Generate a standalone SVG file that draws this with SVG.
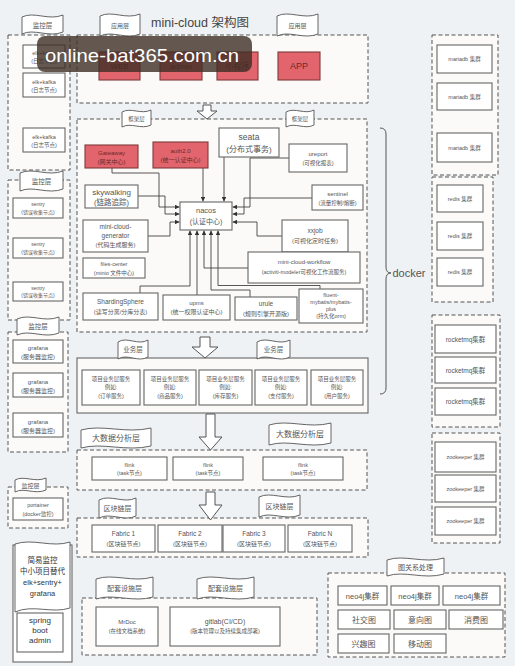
<svg xmlns="http://www.w3.org/2000/svg" width="515" height="666" viewBox="0 0 515 666">
<defs>
<marker id="ah" viewBox="0 0 6 6" refX="6" refY="3" markerWidth="4.5" markerHeight="4.5" markerUnits="userSpaceOnUse" orient="auto"><path d="M0,0 L6,3 L0,6 Z" fill="#333"/></marker>
</defs>
<style>
text{font-family:"Liberation Sans","Noto Sans CJK SC",sans-serif;fill:#555;text-anchor:middle}
.grp{fill:#fbfaf8;stroke:#555;stroke-width:1;stroke-dasharray:4 2.5}
.sgrp{fill:#fbfaf8;stroke:#666;stroke-width:1.1}
.box{fill:#fff;stroke:#666;stroke-width:1.1}
.red{fill:#e2656d;stroke:#7d3a3a;stroke-width:1.1}
.flag{fill:#fff;stroke:#555;stroke-width:0.9}
.harrow{fill:#fff;stroke:#555;stroke-width:1}
.conn{fill:none;stroke:#444;stroke-width:0.9;marker-end:url(#ah)}
.rt{fill:#6b2a2a}
.s5{font-size:5px}.s55{font-size:5.5px}.s6{font-size:6px}.s65{font-size:6.5px}.s7{font-size:7px}.s75{font-size:7.5px}.s8{font-size:8px}
</style>
<rect x="0" y="0" width="515" height="666" fill="#eef2f4"/>
<text x="200" y="27" style="font-size:12.5px;fill:#444">mini-cloud 架构图</text>

<!-- containers -->
<g id="app-layer"><rect class="grp" x="77" y="35" width="291" height="68"/></g>
<g id="framework-layer"><rect class="grp" x="77" y="119" width="290" height="213"/></g>
<g id="business-layer"><rect class="sgrp" x="77" y="358" width="291" height="55"/></g>
<g id="bigdata-layer"><rect class="grp" x="77" y="450" width="290" height="40"/></g>
<g id="blockchain-layer"><rect class="grp" x="77" y="518" width="291" height="39"/></g>
<g id="support-layer"><rect class="grp" x="82" y="598" width="235" height="57"/></g>
<g id="graph-layer"><rect class="grp" x="328" y="573" width="177" height="84"/></g>
<g id="mon-elk"><rect class="grp" x="8" y="35" width="62" height="135"/></g>
<g id="mon-sentry"><rect class="grp" x="8" y="180" width="62" height="140"/></g>
<g id="mon-grafana"><rect class="grp" x="8" y="332" width="60" height="120"/></g>
<g id="mon-portainer"><rect class="grp" x="8" y="487" width="60" height="41"/></g>
<g id="mariadb-group"><rect class="grp" x="432" y="35" width="66" height="140"/></g>
<g id="redis-group"><rect class="grp" x="432" y="177" width="61" height="125"/></g>
<g id="rocketmq-group"><rect class="grp" x="432" y="315" width="68" height="112"/></g>
<g id="zookeeper-group"><rect class="grp" x="432" y="433" width="68" height="110"/></g>

<!-- flags -->
<g id="flags">
<path class="flag" d="M100,16 C112,10 126,20 140,14 L140,34 C126,40 112,30 100,36 Z"/><text class="s6" x="120" y="28">应用层</text>
<path class="flag" d="M277,16 C289,10 304,20 318,14 L318,34 C304,40 289,30 277,36 Z"/><text class="s6" x="297.5" y="28">应用层</text>
<path class="flag" d="M122,112 C131,107 141,115 151,110 L151,125 C141,130 131,122 122,127 Z"/><text class="s55" x="136.5" y="121">框架层</text>
<path class="flag" d="M286,112 C295,107 305,115 314,110 L314,125 C305,130 295,122 286,127 Z"/><text class="s55" x="300" y="121">框架层</text>
<path class="flag" d="M118,342 C127,336 138,346 148,340 L148,357 C138,363 127,353 118,359 Z"/><text class="s65" x="133" y="352">业务层</text>
<path class="flag" d="M257,342 C267,336 279,346 290,340 L290,357 C279,363 267,353 257,359 Z"/><text class="s65" x="273.5" y="352">业务层</text>
<path class="flag" d="M81,430 C102,424 126,434 151,428 L151,446 C126,452 102,442 81,448 Z"/><text class="s8" x="116" y="441">大数据分析层</text>
<path class="flag" d="M269,425 C288,419 309,429 331,423 L331,443 C309,449 288,439 269,445 Z"/><text class="s8" x="300" y="437">大数据分析层</text>
<path class="flag" d="M99,500 C110,494 124,504 136,498 L136,516 C124,522 110,512 99,518 Z"/><text class="s7" x="117.5" y="511">区块链层</text>
<path class="flag" d="M259,497 C271,491 286,501 300,495 L300,515 C286,521 271,511 259,517 Z"/><text class="s7" x="279.5" y="509">区块链层</text>
<path class="flag" d="M96,579 C113,573 133,583 153,577 L153,597 C133,603 113,593 96,599 Z"/><text class="s7" x="124.5" y="591">配套设施层</text>
<path class="flag" d="M197,579 C214,573 234,583 254,577 L254,597 C234,603 214,593 197,599 Z"/><text class="s7" x="225.5" y="591">配套设施层</text>
<path class="flag" d="M387,560 C404,554 424,564 444,558 L444,574 C424,580 404,570 387,576 Z"/><text class="s7" x="415.5" y="570">图关系处理</text>
<path class="flag" d="M22,17 C34,11 49,21 63,15 L63,32 C49,38 34,28 22,34 Z"/><text class="s65" x="42.5" y="28">监控层</text>
<path class="flag" d="M20,173 C33,167 48,177 63,171 L63,189 C48,195 33,185 20,191 Z"/><text class="s65" x="41.5" y="184">监控层</text>
<path class="flag" d="M17,319 C30,313 44,323 59,317 L59,333 C44,339 30,329 17,335 Z"/><text class="s65" x="38" y="329">监控层</text>
<path class="flag" d="M15,480 C24,475 35,483 46,478 L46,490 C35,495 24,487 15,492 Z"/><text class="s6" x="30.5" y="488">监控层</text>
</g>

<!-- hollow flow arrows -->
<g id="flow-arrows">
<path class="harrow" d="M203,105 H211 V111 H217 L207,119 L197,111 H203 Z"/>
<path class="harrow" d="M200,337 H210 V347 H218 L205,358 L192,347 H200 Z"/>
<path class="harrow" d="M206,414 H215 V437 H222 L210.5,450 L199,437 H206 Z"/>
<path class="harrow" d="M206,492 H215 V505 H222 L210.5,520 L199,505 H206 Z"/>
</g>

<!-- app nodes -->
<g id="web"><rect class="red" x="99" y="52" width="41" height="28"/><text class="s8 rt" x="119.5" y="69">WEB</text></g>
<g id="admin"><rect class="red" x="160" y="52" width="42" height="28"/><text class="s8 rt" x="181" y="69">admin</text></g>
<g id="miniprogram"><rect class="red" x="217" y="52" width="41" height="28"/><text class="s8 rt" x="237.5" y="69">小程序</text></g>
<g id="app"><rect class="red" x="278" y="52" width="42" height="28"/><text class="rt" style="font-size:9px" x="299" y="69">APP</text></g>

<!-- connectors -->
<g id="connectors">
<path class="conn" d="M112,168 V173 H159 V207 H179.5"/>
<path class="conn" d="M203,168 V201.5"/>
<path class="conn" d="M224,157 V201.5"/>
<path class="conn" d="M289,158 H250 V207 H232.5"/>
<path class="conn" d="M312,198 H244 V214 H232.5"/>
<path class="conn" d="M282,236 H257 V222 H232.5"/>
<path class="conn" d="M138,196 H165 V214 H179.5"/>
<path class="conn" d="M148,236 H170 V222 H179.5"/>
<path class="conn" d="M140,293 V286 H190 V230.5"/>
<path class="conn" d="M197,295 V230.5"/>
<path class="conn" d="M248,268 H204 V230.5"/>
<path class="conn" d="M250,297 V290 H211 V230.5"/>
<path class="conn" d="M320,289 V285.5 H218 V230.5"/>
</g>

<!-- framework nodes -->
<g id="gateaway"><rect class="red" x="85" y="145" width="53" height="23"/><text class="s6 rt" x="111.5" y="155">Gateaway</text><text class="s6 rt" x="111.5" y="163.5">(网关中心)</text></g>
<g id="auth"><rect class="red" x="153" y="142" width="55" height="26"/><text class="s6 rt" x="180.5" y="153">auth2.0</text><text class="s6 rt" x="180.5" y="162">(统一认证中心)</text></g>
<g id="seata"><rect class="box" x="219" y="128" width="60" height="29"/><text style="font-size:8.5px" x="249" y="140">seata</text><text class="s8" x="249" y="152">(分布式事务)</text></g>
<g id="ureport"><rect class="box" x="289" y="144" width="58" height="28"/><text class="s6" x="318" y="156">ureport</text><text class="s55" x="318" y="165">(可视化报表)</text></g>
<g id="skywalking"><rect class="box" x="85" y="185" width="53" height="23"/><text class="s8" x="111.5" y="195">skywalking</text><text class="s75" x="111.5" y="205">(链路追踪)</text></g>
<g id="nacos"><rect class="box" x="180" y="202" width="52" height="28"/><text class="s75" x="206" y="213">nacos</text><text class="s7" x="206" y="224">(认证中心)</text></g>
<g id="sentinel"><rect class="box" x="312" y="185" width="51" height="25"/><text class="s6" x="337.5" y="196">sentinel</text><text class="s55" x="337.5" y="205">(流量控制/熔断)</text></g>
<g id="generator"><rect class="box" x="83" y="220" width="65" height="32"/><text class="s65" x="115.5" y="229">mini-cloud-</text><text class="s65" x="115.5" y="238">generator</text><text class="s6" x="115.5" y="247">(代码生成服务)</text></g>
<g id="xxjob"><rect class="box" x="282" y="220" width="66" height="32"/><text class="s65" x="315" y="233">xxjob</text><text class="s6" x="315" y="243">(可视化定时任务)</text></g>
<g id="files-center"><rect class="box" x="83" y="258" width="62" height="20"/><text class="s55" x="114" y="266">files-center</text><text class="s55" x="114" y="274.5">(minio 文件中心)</text></g>
<g id="workflow"><rect class="box" x="248" y="252" width="112" height="31"/><text class="s6" x="304" y="264">mini-cloud-workflow</text><text class="s55" x="304" y="274">(activiti-modeler可视化工作流服务)</text></g>
<g id="shardingsphere"><rect class="box" x="83" y="293" width="75" height="27"/><text class="s65" x="120.5" y="304">ShardingSphere</text><text class="s6" x="120.5" y="314">(读写分离/分库分表)</text></g>
<g id="upms"><rect class="box" x="163" y="295" width="67" height="25"/><text class="s6" x="196.5" y="305">upms</text><text class="s6" x="196.5" y="314">(统一权限认证中心)</text></g>
<g id="urule"><rect class="box" x="235" y="297" width="62" height="23"/><text class="s65" x="266" y="306">urule</text><text class="s6" x="266" y="315.5">(规则引擎开源版)</text></g>
<g id="fluent"><rect class="box" x="299" y="289" width="64" height="34"/><text class="s55" x="331" y="296.5">fluent-</text><text class="s55" x="331" y="303.5">mybatis/mybatis-</text><text class="s55" x="331" y="310.5">plus</text><text class="s55" x="331" y="318">(持久化orm)</text></g>

<!-- business nodes -->
<g id="biz-order"><rect class="box" x="82" y="370" width="58" height="35"/><text class="s55" x="111" y="381">项目业务层服务</text><text class="s55" x="111" y="389">例如:</text><text class="s55" x="111" y="397.5">(订单服务)</text></g>
<g id="biz-goods"><rect class="box" x="144" y="370" width="52" height="35"/><text class="s55" x="170" y="381">项目业务层服务</text><text class="s55" x="170" y="389">例如:</text><text class="s55" x="170" y="397.5">(商品服务)</text></g>
<g id="biz-stock"><rect class="box" x="199" y="370" width="53" height="35"/><text class="s55" x="225.5" y="381">项目业务层服务</text><text class="s55" x="225.5" y="389">例如:</text><text class="s55" x="225.5" y="397.5">(库存服务)</text></g>
<g id="biz-pay"><rect class="box" x="255" y="370" width="52" height="35"/><text class="s55" x="281" y="381">项目业务层服务</text><text class="s55" x="281" y="389">例如:</text><text class="s55" x="281" y="397.5">(支付服务)</text></g>
<g id="biz-user"><rect class="box" x="311" y="370" width="52" height="35"/><text class="s55" x="337" y="381">项目业务层服务</text><text class="s55" x="337" y="389">例如:</text><text class="s55" x="337" y="397.5">(用户服务)</text></g>

<!-- big data nodes -->
<g id="flink1"><rect class="box" x="92" y="457" width="75" height="23"/><text class="s55" x="129.5" y="466.5">flink</text><text class="s55" x="129.5" y="475">(task节点)</text></g>
<g id="flink2"><rect class="box" x="173" y="457" width="70" height="23"/><text class="s55" x="208" y="466.5">flink</text><text class="s55" x="208" y="475">(task节点)</text></g>
<g id="flink3"><rect class="box" x="263" y="457" width="80" height="23"/><text class="s55" x="303" y="466.5">flink</text><text class="s55" x="303" y="475">(task节点)</text></g>

<!-- blockchain nodes -->
<g id="fabric1"><rect class="box" x="92" y="525" width="63" height="27"/><text class="s65" x="123.5" y="536">Fabric 1</text><text class="s6" x="123.5" y="545.5">(区块链节点)</text></g>
<g id="fabric2"><rect class="box" x="158" y="525" width="64" height="27"/><text class="s65" x="190" y="536">Fabric 2</text><text class="s6" x="190" y="545.5">(区块链节点)</text></g>
<g id="fabric3"><rect class="box" x="223" y="525" width="62" height="27"/><text class="s65" x="254" y="536">Fabric 3</text><text class="s6" x="254" y="545.5">(区块链节点)</text></g>
<g id="fabricN"><rect class="box" x="288" y="525" width="64" height="27"/><text class="s65" x="320" y="536">Fabric N</text><text class="s6" x="320" y="545.5">(区块链节点)</text></g>

<!-- support nodes -->
<g id="mrdoc"><rect class="box" x="96" y="607" width="62" height="39"/><text class="s6" x="127" y="624">MrDoc</text><text class="s55" x="127" y="633">(在线文档系统)</text></g>
<g id="gitlab"><rect class="box" x="170" y="607" width="110" height="39"/><text class="s7" x="225" y="624">gitlab(CI/CD)</text><text class="s55" x="225" y="633">(版本管理以及持续集成部署)</text></g>

<!-- graph nodes -->
<g id="neo4j1"><rect class="box" x="338" y="586" width="49" height="19"/><text class="s75" x="362.5" y="598.5">neo4j集群</text></g>
<g id="neo4j2"><rect class="box" x="391" y="586" width="48" height="19"/><text class="s75" x="415" y="598.5">neo4j集群</text></g>
<g id="neo4j3"><rect class="box" x="443" y="586" width="57" height="19"/><text class="s75" x="471.5" y="598.5">neo4j集群</text></g>
<g id="social"><rect class="box" x="338" y="610" width="52" height="19"/><text class="s8" x="364" y="622.5">社交图</text></g>
<g id="intent"><rect class="box" x="394" y="610" width="52" height="19"/><text class="s8" x="420" y="622.5">意向图</text></g>
<g id="consume"><rect class="box" x="449" y="610" width="54" height="19"/><text class="s8" x="476" y="622.5">消费图</text></g>
<g id="interest"><rect class="box" x="338" y="634" width="51" height="19"/><text class="s8" x="363.5" y="646.5">兴趣图</text></g>
<g id="mobile"><rect class="box" x="394" y="634" width="52" height="19"/><text class="s8" x="420" y="646.5">移动图</text></g>

<!-- left monitoring nodes -->
<g id="elk1"><rect class="box" x="23" y="45" width="42" height="23"/><text class="s55" x="44" y="55">elk+kafka</text><text class="s55" x="44" y="63">(日志节点)</text></g>
<g id="elk2"><rect class="box" x="23" y="73" width="42" height="24"/><text class="s55" x="44" y="83.5">elk+kafka</text><text class="s55" x="44" y="91.5">(日志节点)</text></g>
<g id="elk3"><rect class="box" x="23" y="128" width="42" height="24"/><text class="s55" x="44" y="138.5">elk+kafka</text><text class="s55" x="44" y="146.5">(日志节点)</text></g>
<g id="sentry1"><rect class="box" x="13" y="198" width="50" height="20"/><text class="s5" x="38" y="206">sentry</text><text class="s5" x="38" y="213.5">(错误收集节点)</text></g>
<g id="sentry2"><rect class="box" x="13" y="238" width="50" height="20"/><text class="s5" x="38" y="246">sentry</text><text class="s5" x="38" y="253.5">(错误收集节点)</text></g>
<g id="sentry3"><rect class="box" x="13" y="282" width="50" height="19"/><text class="s5" x="38" y="289.5">sentry</text><text class="s5" x="38" y="297">(错误收集节点)</text></g>
<g id="grafana1"><rect class="box" x="13" y="340" width="50" height="23"/><text class="s6" x="38" y="350">grafana</text><text class="s6" x="38" y="359">(服务器监控)</text></g>
<g id="grafana2"><rect class="box" x="13" y="373" width="50" height="24"/><text class="s6" x="38" y="383.5">grafana</text><text class="s6" x="38" y="392.5">(服务器监控)</text></g>
<g id="grafana3"><rect class="box" x="13" y="413" width="50" height="24"/><text class="s6" x="38" y="423.5">grafana</text><text class="s6" x="38" y="432.5">(服务器监控)</text></g>
<g id="portainer"><rect class="box" x="13" y="498" width="50" height="22"/><text class="s55" x="38" y="507">portainer</text><text class="s55" x="38" y="515.5">(docker监控)</text></g>
<g id="simple-monitor">
<rect class="box" x="13" y="545" width="59" height="117"/>
<path class="flag" d="M15,544 C33,538 52,548 70,542 L70,608 C52,614 33,604 15,612 Z"/>
<text class="s75" x="42.5" y="563" style="fill:#333">简易监控</text>
<text class="s75" x="42.5" y="574" style="fill:#333">中小项目替代</text>
<text class="s75" x="42.5" y="585" style="fill:#333">elk+sentry+</text>
<text class="s75" x="42.5" y="596" style="fill:#333">grafana</text>
</g>
<g id="spring-boot-admin"><rect class="box" x="17" y="613" width="46" height="39"/><text class="s8" x="40" y="623" style="fill:#333">spring</text><text class="s8" x="40" y="633" style="fill:#333">boot</text><text class="s8" x="40" y="643" style="fill:#333">admin</text></g>

<!-- right column nodes -->
<g id="mariadb1"><rect class="box" x="437" y="45" width="55" height="28"/><text class="s55" x="464.5" y="61">mariadb 集群</text></g>
<g id="mariadb2"><rect class="box" x="437" y="83" width="55" height="27"/><text class="s55" x="464.5" y="98.5">mariadb 集群</text></g>
<g id="mariadb3"><rect class="box" x="437" y="133" width="55" height="29"/><text class="s55" x="464.5" y="149.5">mariadb 集群</text></g>
<g id="redis1"><rect class="box" x="437" y="185" width="46" height="27"/><text class="s55" x="460" y="200.5">redis 集群</text></g>
<g id="redis2"><rect class="box" x="437" y="222" width="46" height="28"/><text class="s55" x="460" y="238">redis 集群</text></g>
<g id="redis3"><rect class="box" x="437" y="258" width="46" height="28"/><text class="s55" x="460" y="274">redis 集群</text></g>
<g id="rocketmq1"><rect class="box" x="435" y="325" width="61" height="28"/><text class="s65" x="465.5" y="341.5">rocketmq集群</text></g>
<g id="rocketmq2"><rect class="box" x="435" y="357" width="61" height="26"/><text class="s65" x="465.5" y="372.5">rocketmq集群</text></g>
<g id="rocketmq3"><rect class="box" x="435" y="388" width="61" height="27"/><text class="s65" x="465.5" y="404">rocketmq集群</text></g>
<g id="zookeeper1"><rect class="box" x="435" y="442" width="61" height="30"/><text class="s55" x="465.5" y="459">zookeeper 集群</text></g>
<g id="zookeeper2"><rect class="box" x="435" y="475" width="61" height="27"/><text class="s55" x="465.5" y="490.5">zookeeper 集群</text></g>
<g id="zookeeper3"><rect class="box" x="435" y="507" width="61" height="28"/><text class="s55" x="465.5" y="523">zookeeper 集群</text></g>

<!-- docker brace -->
<g id="docker">
<path d="M380,128 Q386,128 386,134 V267 Q386,273 391,273 Q386,273 386,279 V388 Q386,394 380,394" fill="none" stroke="#555" stroke-width="1"/>
<text x="409" y="277" style="font-size:11px;fill:#555">docker</text>
</g>

<!-- watermark -->
<g id="watermark">
<rect x="37" y="36" width="215" height="36" rx="8" fill="#3d2e24" opacity="0.8"/>
<text x="45" y="62" style="font-size:19px;fill:#fff;text-anchor:start" textLength="194" lengthAdjust="spacingAndGlyphs">online-bat365.com.cn</text>
</g>
</svg>
